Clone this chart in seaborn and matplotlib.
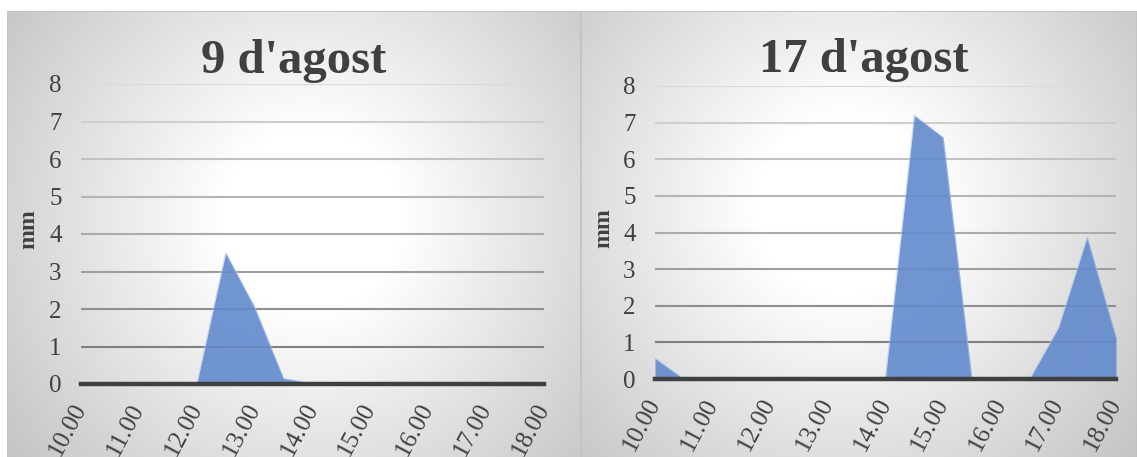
import numpy as np
import pandas as pd
import matplotlib
matplotlib.use("Agg")
import matplotlib.pyplot as plt
from matplotlib.patches import Rectangle
import seaborn as sns

# Half-hourly rainfall (mm) between 10.00 and 18.00
times = [10.0, 10.5, 11.0, 11.5, 12.0, 12.5, 13.0, 13.5, 14.0,
         14.5, 15.0, 15.5, 16.0, 16.5, 17.0, 17.5, 18.0]
rain_aug9 = [0, 0, 0, 0, 0, 3.5, 2.05, 0.15, 0.02,
             0, 0, 0.05, 0, 0, 0, 0, 0]
rain_aug17 = [0.57, 0, 0, 0, 0, 0, 0, 0, 0.05,
              7.2, 6.6, 0, 0, 0, 1.4, 3.88, 1.15]
titles = ["9 d'agost", "17 d'agost"]
hour_ticks = [10, 11, 12, 13, 14, 15, 16, 17, 18]
hour_labels = ["10.00", "11.00", "12.00", "13.00", "14.00",
               "15.00", "16.00", "17.00", "18.00"]
y_ticks = [0, 1, 2, 3, 4, 5, 6, 7, 8]

sns.set_theme(style="white")
plt.rcParams["font.family"] = ["Liberation Serif", "DejaVu Serif"]

W, H = 1137, 457
fig = plt.figure(figsize=(W / 100, H / 100), dpi=100)
fig.patch.set_facecolor("white")

TEXT = "#404040"
FILL = "#628acd"
EDGE = "#b4c9ec"


def px_rect(x0, y0, x1, y1):
    """Figure-fraction rect from pixel box (y measured from top)."""
    return [x0 / W, 1 - y1 / H, (x1 - x0) / W, (y1 - y0) / H]


def panel_background(x0, y0, x1, y1, cx, cy):
    bg = fig.add_axes(px_rect(x0, y0, x1, y1), zorder=-10)
    w, h = int(x1 - x0), int(y1 - y0)
    xx, yy = np.meshgrid(np.arange(w), np.arange(h))
    r = np.hypot(xx - (cx - x0), yy - (cy - y0))
    v = 1 - 0.2 * np.clip(r - 90, 0, None) / 255
    v = np.clip(v, 0.74, 1)
    bg.imshow(np.dstack([v, v, v]), aspect="auto", interpolation="bilinear",
              extent=(0, w, h, 0))
    bg.set_xlim(0, w)
    bg.set_ylim(h, 0)
    bg.axis("off")
    bg.add_patch(Rectangle((0, 0), w, h + 5, fill=False, ec="#c2c2c2", lw=1.2))


panel_background(7, 11, 581, 457, 310, 220)
panel_background(581, 11, 1137, 457, 845, 205)

panels = [
    dict(rect=px_rect(81, 84, 544, 384), data=rain_aug9, title=titles[0],
         cx=294, base=73),
    dict(rect=px_rect(655, 86, 1116, 379), data=rain_aug17, title=titles[1],
         cx=864, base=72),
]

grid_cols = ["#808080", "#8f8f8f", "#9e9e9e", "#ababab", "#b5b5b5",
             "#c2c2c2", "#cecece", "#dadada"]

for p in panels:
    ax = fig.add_axes(p["rect"])
    ax.set_facecolor("none")
    df = pd.DataFrame({"hora": times, "mm": p["data"]})

    ax.fill_between(df["hora"], 0, df["mm"], color=FILL, alpha=0.9,
                    lw=0, zorder=2)
    sns.lineplot(data=df, x="hora", y="mm", ax=ax, color=EDGE, lw=0.9,
                 alpha=0.6, zorder=2.2)

    ax.set_xlim(10, 18)
    ax.set_ylim(0, 8)
    ax.set_yticks(y_ticks)
    ax.set_yticklabels([str(t) for t in y_ticks])
    ax.set_xticks(hour_ticks)
    ax.set_xticklabels(hour_labels)

    ax.grid(axis="y", lw=1.5, zorder=1)
    ax.set_axisbelow(True)
    for gl, col in zip(ax.yaxis.get_gridlines()[1:], grid_cols):
        gl.set_color(col)

    for s in ["top", "right", "left"]:
        ax.spines[s].set_visible(False)
    ax.spines["bottom"].set_color(TEXT)
    ax.spines["bottom"].set_linewidth(3.2)
    ax.spines["bottom"].set_zorder(5)

    ax.tick_params(axis="y", length=0, pad=14, labelsize=18, labelcolor=TEXT)
    ax.tick_params(axis="x", length=0, pad=15, labelsize=18, labelcolor=TEXT)
    for lab in ax.get_xticklabels():
        lab.set_rotation(62)
        lab.set_rotation_mode("anchor")
        lab.set_ha("right")
        lab.set_va("center")

    ax.set_xlabel("")
    ax.set_ylabel("mm", fontsize=17, fontweight="bold", color=TEXT)
    ax.yaxis.label.set_va("center")
    ax.yaxis.set_label_coords(-0.112, 0.515)

    fig.text(p["cx"] / W, 1 - p["base"] / H, p["title"], ha="center",
             va="baseline", fontsize=35, fontweight="bold", color=TEXT)

fig.savefig("out.png", dpi=100, facecolor=fig.get_facecolor())
